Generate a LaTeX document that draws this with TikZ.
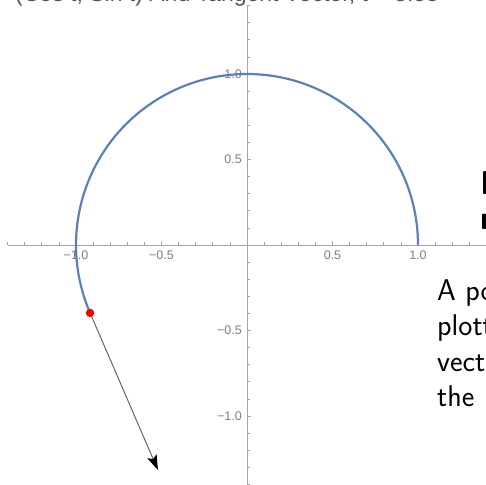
\documentclass[tikz,border=0pt]{standalone}
\usepackage{fontspec}
\newfontfamily\plotfont{Liberation Sans}
\usetikzlibrary{arrows.meta,calc}
\definecolor{curveblue}{HTML}{5E81B5}
\definecolor{axisgray}{HTML}{A6A6A6}
\definecolor{labelgray}{HTML}{7F7F7F}
\definecolor{titlegray}{HTML}{555555}
\begin{document}
\begin{tikzpicture}[x=1pt,y=1pt,
  axis/.style={draw=axisgray,line width=0.9pt},
  tickmark/.style={draw=axisgray,line width=0.7pt},
  ticklabel/.style={text=labelgray,font=\plotfont\fontsize{12.5}{12.5}\selectfont,inner sep=0pt},
  curve/.style={draw=curveblue,line width=2.2pt},
  tangent/.style={draw=black!65,line width=0.9pt,-{Stealth[length=15pt,width=10pt,inset=3pt,black]}},
  bodytext/.style={font=\sffamily\fontsize{30}{36}\selectfont,anchor=base west,inner sep=0pt},
  headtext/.style={font=\sffamily\bfseries\fontsize{33}{36}\selectfont,anchor=base west,inner sep=0pt},
  titletext/.style={font=\plotfont\fontsize{23}{23}\selectfont,text=titlegray,anchor=base west,inner sep=0pt}]
\useasboundingbox (0,0) rectangle (486,484);
\fill[white] (0,0) rectangle (486,484);
\node[titletext] (title) at (15,482) {(Cos t, Sin t) And Tangent Vector, t = 3.55};
\begin{scope}[shift={(247,239)},x=171pt,y=171pt]
  \draw[axis] (-1.4,0) -- (1.4,0);
  \draw[axis] (0,-1.4) -- (0,1.4);
  \foreach \i in {-14,...,-1,1,2,...,14} {
    \pgfmathtruncatemacro\m{mod(abs(\i),5)}
    \ifnum\m=0 \def\tl{4pt}\else\def\tl{2.5pt}\fi
    \draw[tickmark] (\i/10,0) -- ++(0,\tl);
    \draw[tickmark] (0,\i/10) -- ++(\tl,0);
  }
  \node[ticklabel,anchor=north,yshift=-6pt] (xla) at (-1,0) {−1.0};
  \node[ticklabel,anchor=north,yshift=-6pt] (xlb) at (-0.5,0) {−0.5};
  \node[ticklabel,anchor=north,yshift=-6pt] (xlc) at (0.5,0) {0.5};
  \node[ticklabel,anchor=north,yshift=-6pt] (xld) at (1,0) {1.0};
  \node[ticklabel,anchor=east,xshift=-5pt] (yla) at (0,1) {1.0};
  \node[ticklabel,anchor=east,xshift=-5pt] (ylb) at (0,0.5) {0.5};
  \node[ticklabel,anchor=east,xshift=-5pt] (ylc) at (0,-0.5) {−0.5};
  \node[ticklabel,anchor=east,xshift=-5pt] (yld) at (0,-1) {−1.0};
  \draw[curve] (1,0) arc[start angle=0,end angle=203.4,radius=1];
  \coordinate (P) at (203.4:1);
  \coordinate (E) at (-0.521,-1.316);
  \draw[tangent] (P) -- (E);
  \fill[red] (P) circle (4.2pt);
\end{scope}
\node[headtext] (h1) at (480,289) {Parametric};
\node[headtext] (h2) at (480,254) {motion};
\node[bodytext] (b1) at (437,183) {A point};
\node[bodytext] (b2) at (437,148) {plotted};
\node[bodytext] (b3) at (437,113) {vector};
\node[bodytext] (b4) at (437,78) {the};
\end{tikzpicture}
\end{document}
